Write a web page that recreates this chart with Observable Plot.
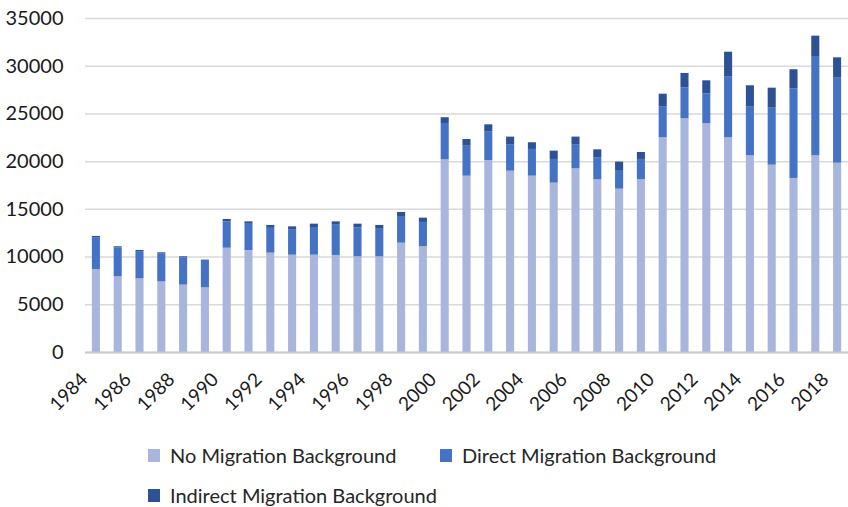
<!DOCTYPE html>
<html>
<head>
<meta charset="utf-8">
<script src="https://cdn.jsdelivr.net/npm/d3@7"></script>
<script src="https://cdn.jsdelivr.net/npm/@observablehq/plot@0.6"></script>
<style>
  html, body { margin: 0; padding: 0; background: #fff; }
  #wrap { position: relative; width: 848px; height: 507px; overflow: hidden; font-family: Lato, "Open Sans", sans-serif; }
  #legend { position: absolute; left: 0; top: 420px; width: 848px; height: 87px; font-size: 20px; line-height: 22px; color: #262626; }
  .item { position: absolute; display: flex; align-items: center; white-space: nowrap; height: 22px; }
  .sw { width: 12px; height: 13px; margin-right: 10px; }
</style>
</head>
<body>
<div id="wrap">
  <div id="chart"></div>
  <div id="legend"></div>
</div>
<script>
const years = d3.range(1984, 2019);
const series = ["No Migration Background", "Direct Migration Background", "Indirect Migration Background"];
const colors = ["#a8b5dc", "#4472c4", "#2e5193"];
const noMigration = [8700, 7930, 7720, 7400, 7060, 6780, 10930, 10690, 10410, 10200, 10200, 10170, 10030, 10030, 11460, 11080,
  20190, 18480, 20120, 19000, 18480, 17750, 19250, 18100, 17120, 18100, 22500, 24490, 23970, 22500, 20610, 19630, 18240, 20610, 19840];
const directMigration = [3330, 3030, 2850, 2930, 2850, 2780, 2760, 2750, 2600, 2620, 2900, 3170, 3020, 2880, 2710, 2550,
  3810, 3140, 2970, 2730, 2800, 2480, 2480, 2270, 1950, 2130, 3210, 3250, 3140, 6350, 5100, 5970, 9400, 10410, 8910];
const indirectMigration = [130, 120, 120, 120, 120, 120, 250, 250, 300, 350, 350, 350, 400, 400, 500, 450,
  600, 700, 770, 840, 700, 870, 840, 870, 880, 730, 1360, 1500, 1360, 2620, 2240, 2100, 1990, 2130, 2130];
const yTicks = [0, 5000, 10000, 15000, 20000, 25000, 30000, 35000];
const xTickYears = years.filter(y => (y - 1984) % 2 === 0);

const data = [];
years.forEach((yr, i) => {
  data.push({year: yr, series: series[0], value: noMigration[i]});
  data.push({year: yr, series: series[1], value: directMigration[i]});
  data.push({year: yr, series: series[2], value: indirectMigration[i]});
});

const chart = Plot.plot({
  width: 848,
  height: 420,
  marginLeft: 85,
  marginRight: 0,
  marginTop: 18,
  marginBottom: 68,
  style: {fontFamily: "Lato, 'Open Sans', sans-serif", fontSize: "19px", color: "#1a1a1a", background: "#fff", overflow: "visible"},
  x: {type: "band", domain: years, paddingInner: 0.63, paddingOuter: 0.315, round: false},
  y: {domain: [0, 35000]},
  color: {domain: series, range: colors},
  marks: [
    Plot.gridY(yTicks, {stroke: "#d9d9d9", strokeOpacity: 1, strokeWidth: 1.5}),
    Plot.barY(data, {x: "year", y: "value", fill: "series", order: series}),
    Plot.ruleY([0], {stroke: "#c8c8c8", strokeWidth: 2}),
    Plot.axisY(yTicks, {tickSize: 0, tickPadding: 22, label: null, fontSize: 20, tickFormat: d3.format("d")}),
    Plot.axisX(xTickYears, {tickSize: 0, tickRotate: -45, tickPadding: 24, dx: -12, label: null, fontSize: 19, tickFormat: d3.format("d")})
  ]
});
document.getElementById("chart").appendChild(chart);

const legend = document.getElementById("legend");
const positions = [[148, 35], [440, 35], [148, 75]];
series.forEach((s, i) => {
  const it = document.createElement("div");
  it.className = "item";
  it.style.left = positions[i][0] + "px";
  it.style.top = (positions[i][1] - 11) + "px";
  it.innerHTML = `<span class="sw" style="background:${colors[i]}"></span><span>${s}</span>`;
  legend.appendChild(it);
});
</script>
</body>
</html>
